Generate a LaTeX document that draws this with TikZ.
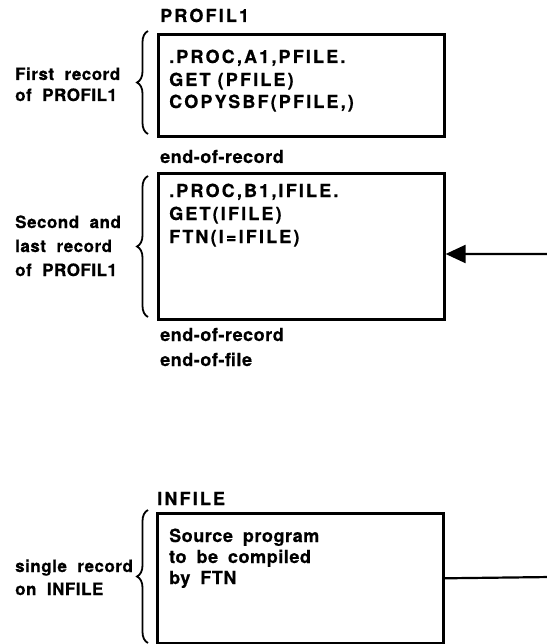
\documentclass[tikz,border=0pt]{standalone}
\usepackage{fontspec}
\setmainfont{TeX Gyre Heros}[LetterSpace=3, WordSpace=1.8, BoldFeatures={FakeBold=0.6}]
\newfontfamily\codefont{TeX Gyre Heros}[LetterSpace=12, BoldFeatures={FakeBold=0.6}]
\newfontfamily\lblfont{TeX Gyre Heros}[LetterSpace=3, WordSpace=2, BoldFeatures={FakeBold=0.6}]
\usetikzlibrary{arrows.meta,decorations.pathreplacing}
\begin{document}
\begin{tikzpicture}[x=1pt,y=-1pt,
  txt/.style={font=\fontsize{18}{22}\selectfont\bfseries, inner sep=0pt},
  lbl/.style={font=\fontsize{17}{21}\selectfont\lblfont\bfseries, inner sep=0pt, anchor=base west},
  line/.style={txt, anchor=base west},
  code/.style={font=\fontsize{18}{22}\selectfont\codefont\bfseries, inner sep=0pt, anchor=base west},
  recbox/.style={draw, line width=2.6pt, inner sep=0pt, anchor=north west, minimum width=286pt},
  brc/.style={decorate, decoration={brace, amplitude=11pt}, line width=1.8pt},
  conn/.style={line width=2.2pt}]
\useasboundingbox (0,0) rectangle (546,644);
% boxes
\node[recbox, minimum height=102pt] (box1) at (157,33) {};
\node[recbox, minimum height=146pt] (box2) at (157,172) {};
\node[recbox, minimum height=130pt] (box3) at (156,512) {};
% texts
\node[code] (p1) at (160,22) {PROFIL1};
\node[code] (a1) at (169,63) {.PROC,A1,PFILE.};
\node[code] (a2) at (169,86) {GET (PFILE)};
\node[code] (a3) at (169,108) {COPYSBF(PFILE,)};
\node[line] (e1) at (160,163) {end-of-record};
\node[code] (b1) at (169,197) {.PROC,B1,IFILE.};
\node[code] (b2) at (169,220) {GET(IFILE)};
\node[code] (b3) at (169,243) {FTN(I=IFILE)};
\node[line] (e2) at (160,341) {end-of-record};
\node[line] (e3) at (160,366) {end-of-file};
\node[code] (i0) at (157,505) {INFILE};
\node[line] (s1) at (169,542) {Source program};
\node[line] (s2) at (169,563) {to be compiled};
\node[line] (s3) at (169,584) {by FTN};
% labels
\node[lbl] (l1) at (15,80) {First record};
\node[lbl] (l2) at (15,101) {of PROFIL1};
\node[lbl] (m1) at (15,228) {Second and};
\node[lbl] (m2) at (15,252) {last record};
\node[lbl] (m3) at (15,276) {of PROFIL1};
\node[lbl] (n1) at (15,572) {single record};
\node[lbl] (n2) at (15,595) {on INFILE};
% braces
\draw[brc] (148,134) -- (148,31);
\draw[brc] (148,317) -- (148,176);
\draw[brc] (148,643) -- (148,510);
% connector (its vertical run lies just beyond the right edge)
\coordinate (r2) at (551,577);
\coordinate (r1) at (551,254);
\draw[conn, -{Triangle[length=20pt,width=18pt]}] (box3.east) -- (r2) -- (r1) -- (r1 -| box2.east);
\end{tikzpicture}
\end{document}
